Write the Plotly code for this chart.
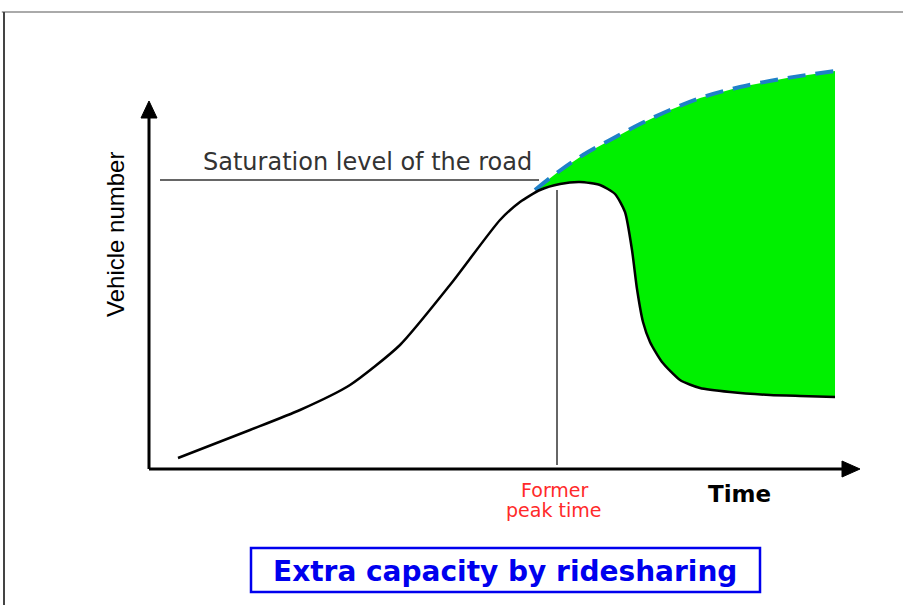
import plotly.graph_objects as go

# ---- data (time units, vehicle-number units) ----
demand_time = [29, 101, 151, 201, 251, 301, 351, 371, 391, 411, 431, 451, 466, 476, 483, 488, 494, 501, 513, 531, 551, 581, 621, 651, 686]
demand_vehicles = [11, 39, 59, 84, 124, 184, 249, 267, 279, 285, 287, 284, 275, 257, 219, 180, 147, 127, 107, 89, 81, 77, 74, 73, 72]

capacity_time = [386, 409, 434, 461, 491, 521, 551, 591, 638, 686]
capacity_vehicles = [279, 297, 314, 329, 345, 359, 371, 382, 391, 398]

saturation_level = 289
former_peak_time = 408

# canvas mapping helpers (for decorations only)
OX, OY = 149, 469
def px(x):
    return x - OX
def py(y):
    return OY - y

fig = go.Figure()

# green extra-capacity area
low_t = [t for t in demand_time if t >= capacity_time[0]]
low_v = [v for t, v in zip(demand_time, demand_vehicles) if t >= capacity_time[0]]
poly_t = capacity_time + low_t[::-1]
poly_v = capacity_vehicles + low_v[::-1]
fig.add_trace(go.Scatter(x=poly_t, y=poly_v, mode="lines", fill="toself",
                         fillcolor="#00f000", line=dict(width=0), hoverinfo="skip",
                         showlegend=False))

# dashed capacity curve
fig.add_trace(go.Scatter(x=capacity_time, y=capacity_vehicles, mode="lines",
                         line=dict(color="#1f80c8", width=4, dash="18px,10px", shape="spline"),
                         showlegend=False))

# demand curve
fig.add_trace(go.Scatter(x=demand_time, y=demand_vehicles, mode="lines",
                         line=dict(color="black", width=2.5, shape="spline", smoothing=0.6),
                         showlegend=False))

shapes = []
# page border lines
shapes.append(dict(type="line", xref="paper", yref="paper", x0=0.002, x1=1, y0=1 - 12/605, y1=1 - 12/605,
                   line=dict(color="#aaaaaa", width=2)))
shapes.append(dict(type="line", xref="paper", yref="paper", x0=4/903, x1=4/903, y0=0, y1=1 - 12/605,
                   line=dict(color="#444444", width=2)))
# axes
shapes.append(dict(type="line", x0=0, x1=px(846), y0=0, y1=0, line=dict(color="black", width=3)))
shapes.append(dict(type="line", x0=0, x1=0, y0=0, y1=py(115), line=dict(color="black", width=3)))
shapes.append(dict(type="path", path=f"M {px(842)} {py(461)} L {px(860)} {py(469)} L {px(842)} {py(477)} Z",
                   fillcolor="black", line=dict(color="black", width=1)))
shapes.append(dict(type="path", path=f"M {px(141)} {py(118)} L {px(149)} {py(101)} L {px(157)} {py(118)} Z",
                   fillcolor="black", line=dict(color="black", width=1)))
# saturation line
shapes.append(dict(type="line", x0=px(160), x1=capacity_time[0] + 4, y0=saturation_level, y1=saturation_level,
                   line=dict(color="#333333", width=1.5)))
# former peak vertical line
shapes.append(dict(type="line", x0=former_peak_time, x1=former_peak_time, y0=4, y1=py(190),
                   line=dict(color="#333333", width=1.5)))
# title box
shapes.append(dict(type="rect", x0=px(251), x1=px(760), y0=py(548), y1=py(592),
                   line=dict(color="#0000ee", width=2.5), fillcolor="white"))

annotations = [
    dict(x=px(367), y=py(162), text="Saturation level of the road", showarrow=False,
         font=dict(family="DejaVu Sans", size=24, color="#333333")),
    dict(x=px(115), y=py(235), text="Vehicle number", showarrow=False, textangle=-90,
         font=dict(family="Liberation Sans Narrow, Arial Narrow, Liberation Sans", size=24, color="black")),
    dict(x=px(555), y=py(490), text="Former", showarrow=False,
         font=dict(family="DejaVu Sans", size=19, color="#ff2a2a")),
    dict(x=px(553), y=py(510), text="peak time", showarrow=False,
         font=dict(family="DejaVu Sans", size=19, color="#ff2a2a")),
    dict(x=px(739), y=py(494), text="<b>Time</b>", showarrow=False,
         font=dict(family="DejaVu Sans", size=23, color="black")),
    dict(x=px(505), y=py(571), text="<b>Extra capacity by ridesharing</b>", showarrow=False,
         font=dict(family="DejaVu Sans", size=28, color="#0000ee")),
]

fig.update_layout(
    width=903, height=605,
    margin=dict(l=0, r=0, t=0, b=0),
    paper_bgcolor="white", plot_bgcolor="white",
    xaxis=dict(range=[px(0), px(903)], visible=False, fixedrange=True),
    yaxis=dict(range=[py(605), py(0)], visible=False, fixedrange=True),
    shapes=shapes, annotations=annotations, showlegend=False,
)

fig.write_html("out.html", config={"displayModeBar": False},
               post_script="document.body.style.margin='0';document.body.style.overflow='hidden';")
